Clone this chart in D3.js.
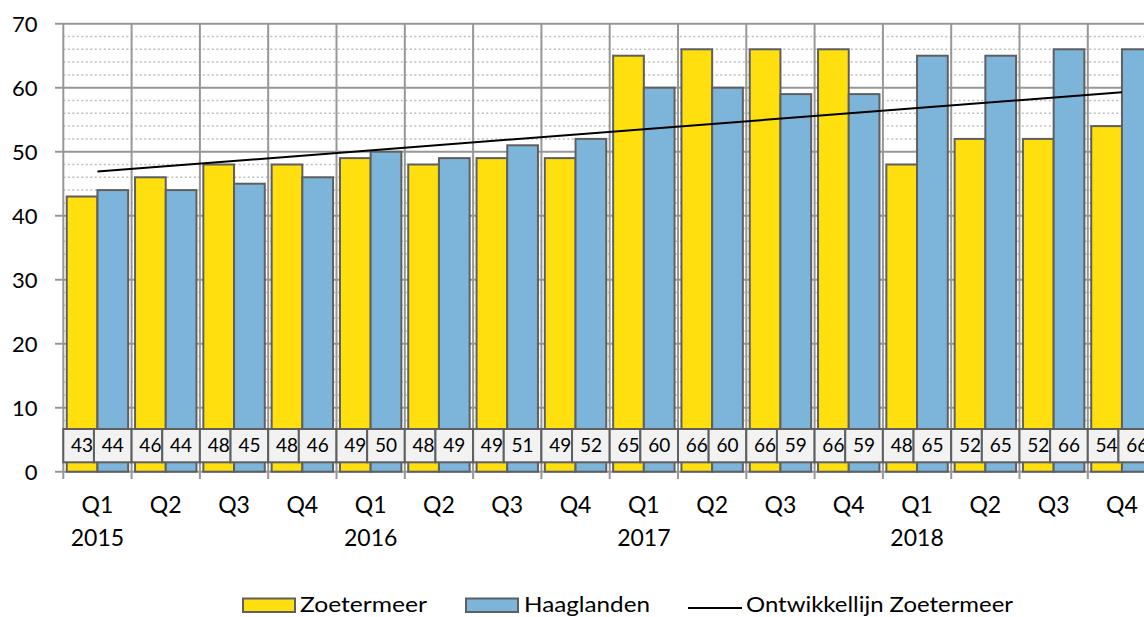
<!DOCTYPE html>
<html lang="nl">
<meta charset="utf-8">
<style>
body { margin: 0; background: #fff; }
svg { display: block; font-family: Lato, Carlito, "Open Sans", sans-serif; }
.major { stroke: #979797; stroke-width: 2px; }
.minor { stroke: #bdbdbd; stroke-width: 1.5px; stroke-dasharray: 2 2.5; }
.bar { stroke: #5f5f5f; stroke-width: 2px; }
.lbl rect { fill: #f2f2f2; stroke: #5f5f5f; stroke-width: 2px; }
</style>
<body>
<script src="https://d3js.org/d3.v7.min.js"></script>
<script>
// quarters 2015 Q1 .. 2018 Q4
var quarters = ["Q1","Q2","Q3","Q4","Q1","Q2","Q3","Q4","Q1","Q2","Q3","Q4","Q1","Q2","Q3","Q4"];
var years = ["2015","","","","2016","","","","2017","","","","2018","","",""];
var zoetermeer = [43,46,48,48,49,48,49,49,65,66,66,66,48,52,52,54];
var haaglanden = [44,44,45,46,50,49,51,52,60,60,59,59,65,65,66,66];
// trend line (Ontwikkellijn) value at first and last quarter
var trend = [46.9, 59.3];
var yTicks = [0,10,20,30,40,50,60,70];

var width = 1144, height = 617;
var x0 = 63.3, step = 68.3;

var svg = d3.select("body").append("svg")
    .attr("width", width)
    .attr("height", height);

var idx = d3.range(quarters.length);

var x = d3.scaleBand().domain(idx).range([x0, x0 + step * idx.length]).padding(0);
var xs = d3.scaleBand().domain(["Z","H"]).range([0, x.bandwidth()]).paddingInner(0).paddingOuter(0.112);
var y = d3.scaleLinear().domain([0, 70]).range([471.7, 23.7]);

// minor dotted gridlines every 2
var minor = d3.range(2, 70, 2).filter(function(v) { return v % 10 != 0; });
svg.selectAll(".minor").data(minor).enter().append("line")
    .attr("class", "minor")
    .attr("x1", x0).attr("x2", width)
    .attr("y1", function(d) { return y(d); })
    .attr("y2", function(d) { return y(d); });

// major horizontal gridlines + ticks
svg.selectAll(".hmaj").data(yTicks).enter().append("line")
    .attr("class", "major")
    .attr("x1", 55).attr("x2", width)
    .attr("y1", function(d) { return y(d); })
    .attr("y2", function(d) { return y(d); });

// vertical gridlines at category boundaries
var bounds = d3.range(quarters.length + 1);
svg.selectAll(".vmaj").data(bounds).enter().append("line")
    .attr("class", "major")
    .attr("x1", function(d) { return x0 + d * x.step(); })
    .attr("x2", function(d) { return x0 + d * x.step(); })
    .attr("y1", y(70)).attr("y2", 479);

// bars
var g = svg.append("g");
g.selectAll(".bz").data(zoetermeer).enter().append("rect")
    .attr("class", "bar")
    .attr("fill", "#ffdf0d")
    .attr("x", function(d, i) { return x(i) + xs("Z"); })
    .attr("width", xs.bandwidth())
    .attr("y", function(d) { return y(d); })
    .attr("height", function(d) { return y(0) - y(d); });
g.selectAll(".bh").data(haaglanden).enter().append("rect")
    .attr("class", "bar")
    .attr("fill", "#7db5da")
    .attr("x", function(d, i) { return x(i) + xs("H"); })
    .attr("width", xs.bandwidth())
    .attr("y", function(d) { return y(d); })
    .attr("height", function(d) { return y(0) - y(d); });

// trend line
svg.append("line")
    .attr("x1", x(0) + x.bandwidth() / 2)
    .attr("x2", x(quarters.length - 1) + x.bandwidth() / 2)
    .attr("y1", y(trend[0]))
    .attr("y2", y(trend[1]))
    .attr("stroke", "#000")
    .attr("stroke-width", 2);

// data label boxes
var boxTop = 429, boxBot = 462.3;
var lbl = svg.append("g").attr("class", "lbl");
idx.forEach(function(i) {
  var left = x(i), mid = x(i) + xs("H") - 3.5, right = x(i) + x.step();
  lbl.append("rect").attr("x", left).attr("y", boxTop).attr("width", mid - left).attr("height", boxBot - boxTop);
  lbl.append("rect").attr("x", mid).attr("y", boxTop).attr("width", right - mid).attr("height", boxBot - boxTop);
  lbl.append("text")
      .attr("x", x(i) + xs("Z") + xs.bandwidth() / 2)
      .attr("y", (boxTop + boxBot) / 2)
      .attr("dy", "0.35em")
      .attr("text-anchor", "middle")
      .style("font-size", "19px")
      .text(zoetermeer[i]);
  lbl.append("text")
      .attr("x", x(i) + xs("H") + xs.bandwidth() / 2)
      .attr("y", (boxTop + boxBot) / 2)
      .attr("dy", "0.35em")
      .attr("text-anchor", "middle")
      .style("font-size", "19px")
      .text(haaglanden[i]);
});

// y tick labels
svg.selectAll(".ytl").data(yTicks).enter().append("text")
    .attr("x", 37.5)
    .attr("y", function(d) { return y(d); })
    .attr("dy", "0.36em")
    .attr("text-anchor", "end")
    .style("font-size", "22px")
    .text(function(d) { return d; });

// x labels
svg.selectAll(".qtl").data(quarters).enter().append("text")
    .attr("x", function(d, i) { return x(i) + x.bandwidth() / 2; })
    .attr("y", 505)
    .attr("dy", "0.36em")
    .attr("text-anchor", "middle")
    .style("font-size", "23px")
    .text(function(d) { return d; });
svg.selectAll(".ytx").data(years).enter().append("text")
    .attr("x", function(d, i) { return x(i) + x.bandwidth() / 2; })
    .attr("y", 538)
    .attr("dy", "0.36em")
    .attr("text-anchor", "middle")
    .style("font-size", "23px")
    .text(function(d) { return d; });

// legend
var leg = svg.append("g");
leg.append("rect").attr("x", 243).attr("y", 598.5).attr("width", 52).attr("height", 13.5)
    .attr("fill", "#ffdf0d").attr("stroke", "#5f5f5f").attr("stroke-width", 2);
leg.append("text").attr("x", 300).attr("y", 612.3).style("font-size", "21px")
    .attr("textLength", 127).attr("lengthAdjust", "spacingAndGlyphs").text("Zoetermeer");
leg.append("rect").attr("x", 466).attr("y", 598.5).attr("width", 52).attr("height", 13.5)
    .attr("fill", "#7db5da").attr("stroke", "#5f5f5f").attr("stroke-width", 2);
leg.append("text").attr("x", 524).attr("y", 612.3).style("font-size", "21px")
    .attr("textLength", 126).attr("lengthAdjust", "spacingAndGlyphs").text("Haaglanden");
leg.append("line").attr("x1", 688).attr("x2", 742).attr("y1", 608).attr("y2", 608)
    .attr("stroke", "#000").attr("stroke-width", 2);
leg.append("text").attr("x", 746).attr("y", 612.3).style("font-size", "21px")
    .attr("textLength", 267).attr("lengthAdjust", "spacingAndGlyphs").text("Ontwikkellijn Zoetermeer");
</script>
</body>
</html>
